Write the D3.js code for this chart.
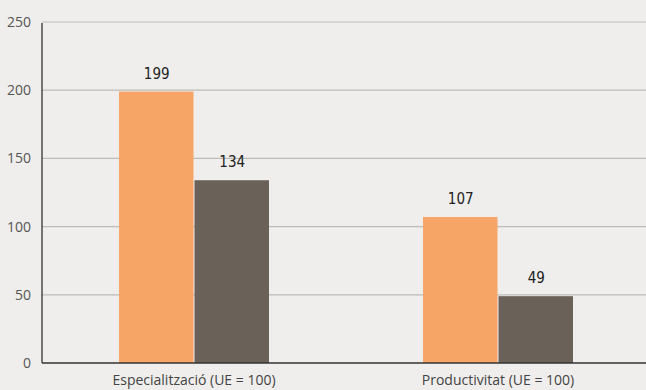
<!DOCTYPE html>
<html>
<head>
<meta charset="utf-8">
<script src="https://cdn.jsdelivr.net/npm/d3@7"></script>
<style>
  html, body { margin: 0; padding: 0; background: #efeeec; }
  svg { display: block; }
  .tick text { font-family: "Open Sans", "DejaVu Sans", sans-serif; }
</style>
</head>
<body>
<svg id="chart" width="646" height="390"></svg>
<script>
// Indicators (EU = 100) and the two compared series
const categories = ["Especialització (UE = 100)", "Productivitat (UE = 100)"];
const seriesNames = ["A", "B"];
const seriesA = [199, 107];
const seriesB = [134, 49];
const yTicks = [0, 50, 100, 150, 200, 250];

const colors = { A: "#f7a567", B: "#6a6158" };

const W = 646, H = 390;
const margin = { top: 22, right: 0, bottom: 27, left: 42 };

const svg = d3.select("#chart");

// category bands (the second band runs slightly past the right edge)
const x = d3.scaleBand()
  .domain(categories)
  .range([margin.left, 650])
  .paddingInner(0)
  .paddingOuter(0);

const xSub = d3.scaleBand()
  .domain(seriesNames)
  .range([0, 151])
  .padding(0);

const y = d3.scaleLinear()
  .domain([0, 250])
  .range([H - margin.bottom, margin.top]);

// horizontal gridlines
svg.append("g")
  .selectAll("line")
  .data(yTicks.filter(d => d > 0))
  .join("line")
  .attr("x1", margin.left)
  .attr("x2", W - margin.right)
  .attr("y1", d => y(d))
  .attr("y2", d => y(d))
  .attr("stroke", "#bcbbb8")
  .attr("stroke-width", 1.2);

// y axis labels
const yAxis = d3.axisLeft(y).tickValues(yTicks).tickSize(0).tickPadding(11);
const gy = svg.append("g")
  .attr("transform", `translate(${margin.left},0)`)
  .call(yAxis);
gy.select(".domain").remove();
gy.selectAll("text")
  .attr("fill", "#555")
  .style("font-size", "14px");

const rows = categories.map((c, i) => ({ cat: c, vals: [
  { key: "A", v: seriesA[i] }, { key: "B", v: seriesB[i] }
]}));

const groups = svg.append("g")
  .selectAll("g")
  .data(rows)
  .join("g")
  .attr("transform", d => `translate(${x(d.cat) + x.bandwidth() / 2 - 75},0)`);

groups.selectAll("rect")
  .data(d => d.vals)
  .join("rect")
  .attr("x", d => xSub(d.key))
  .attr("width", xSub.bandwidth() - 1)
  .attr("y", d => y(d.v))
  .attr("height", d => y(0) - y(d.v))
  .attr("fill", d => colors[d.key]);

groups.selectAll("text")
  .data(d => d.vals)
  .join("text")
  .attr("x", d => xSub(d.key) + xSub.bandwidth() / 2)
  .attr("y", d => y(d.v) - 13)
  .attr("text-anchor", "middle")
  .attr("fill", "#222")
  .style("font-family", "'Liberation Sans Narrow', 'DejaVu Sans Condensed', sans-serif")
  .style("font-size", "15px")
  .text(d => d.v);

// axis lines
svg.append("line")
  .attr("x1", margin.left).attr("x2", margin.left)
  .attr("y1", y(250) + 1).attr("y2", y(0))
  .attr("stroke", "#333").attr("stroke-width", 1.3);
svg.append("line")
  .attr("x1", margin.left).attr("x2", W)
  .attr("y1", y(0)).attr("y2", y(0))
  .attr("stroke", "#333").attr("stroke-width", 1.3);

// category labels
const xAxis = d3.axisBottom(x).tickSize(0).tickPadding(12);
const gx = svg.append("g")
  .attr("transform", `translate(0,${y(0)})`)
  .call(xAxis);
gx.select(".domain").remove();
gx.selectAll("text")
  .attr("fill", "#444")
  .style("font-size", "14px");
</script>
</body>
</html>
